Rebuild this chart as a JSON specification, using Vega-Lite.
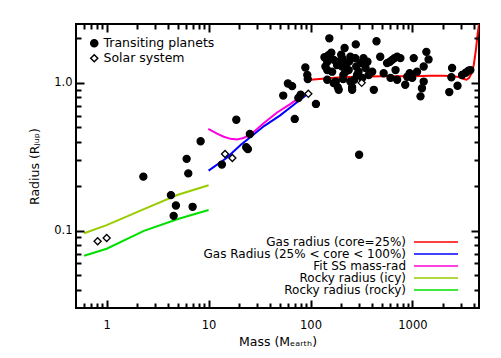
{
  "$schema": "https://vega.github.io/schema/vega-lite/v6.json",
  "width": 403,
  "height": 284,
  "autosize": {"type": "none"},
  "padding": {"left": 76, "top": 24, "right": 22, "bottom": 50},
  "background": "white",
  "config": {
    "font": "DejaVu Sans",
    "view": {"stroke": "black", "strokeWidth": 2},
    "axis": {
      "domain": false, "grid": false, "ticks": true, "tickWidth": 2, "tickOpacity": 1, "zindex": 1,
      "labelColor": "black", "labelFontSize": 11.5,
      "titleFontWeight": "normal", "titleFontSize": 12.5, "titleColor": "black",
      "labelFlush": false, "labelOverlap": false, "labelBound": false
    },
    "legend": {"labelColor": "black"}
  },
  "datasets": {
    "gas": [
      {"model": "Gas radius (core=25%)", "mass": 100, "radius": 1.05},
      {"model": "Gas radius (core=25%)", "mass": 150, "radius": 1.075},
      {"model": "Gas radius (core=25%)", "mass": 200, "radius": 1.09},
      {"model": "Gas radius (core=25%)", "mass": 300, "radius": 1.1},
      {"model": "Gas radius (core=25%)", "mass": 500, "radius": 1.11},
      {"model": "Gas radius (core=25%)", "mass": 1000, "radius": 1.11},
      {"model": "Gas radius (core=25%)", "mass": 1500, "radius": 1.115},
      {"model": "Gas radius (core=25%)", "mass": 2000, "radius": 1.115},
      {"model": "Gas radius (core=25%)", "mass": 2500, "radius": 1.11},
      {"model": "Gas radius (core=25%)", "mass": 2900, "radius": 1.09},
      {"model": "Gas radius (core=25%)", "mass": 3200, "radius": 1.06},
      {"model": "Gas radius (core=25%)", "mass": 3400, "radius": 1.05},
      {"model": "Gas radius (core=25%)", "mass": 3600, "radius": 1.08},
      {"model": "Gas radius (core=25%)", "mass": 3800, "radius": 1.16},
      {"model": "Gas radius (core=25%)", "mass": 4000, "radius": 1.32},
      {"model": "Gas radius (core=25%)", "mass": 4200, "radius": 1.68},
      {"model": "Gas radius (core=25%)", "mass": 4350, "radius": 2.1},
      {"model": "Gas radius (core=25%)", "mass": 4500, "radius": 2.5},
      {"model": "Gas Radius (25% < core < 100%)", "mass": 10, "radius": 0.255},
      {"model": "Gas Radius (25% < core < 100%)", "mass": 15, "radius": 0.31},
      {"model": "Gas Radius (25% < core < 100%)", "mass": 20.6, "radius": 0.38},
      {"model": "Gas Radius (25% < core < 100%)", "mass": 25.8, "radius": 0.43},
      {"model": "Gas Radius (25% < core < 100%)", "mass": 35, "radius": 0.51},
      {"model": "Gas Radius (25% < core < 100%)", "mass": 50, "radius": 0.6},
      {"model": "Gas Radius (25% < core < 100%)", "mass": 70, "radius": 0.72},
      {"model": "Gas Radius (25% < core < 100%)", "mass": 98, "radius": 0.86},
      {"model": "Fit SS mass-rad", "mass": 9.93, "radius": 0.488},
      {"model": "Fit SS mass-rad", "mass": 12.1, "radius": 0.454},
      {"model": "Fit SS mass-rad", "mass": 14.1, "radius": 0.432},
      {"model": "Fit SS mass-rad", "mass": 16.4, "radius": 0.418},
      {"model": "Fit SS mass-rad", "mass": 19.1, "radius": 0.414},
      {"model": "Fit SS mass-rad", "mass": 22, "radius": 0.424},
      {"model": "Fit SS mass-rad", "mass": 25.8, "radius": 0.446},
      {"model": "Fit SS mass-rad", "mass": 34.9, "radius": 0.535},
      {"model": "Fit SS mass-rad", "mass": 47, "radius": 0.63},
      {"model": "Fit SS mass-rad", "mass": 63.7, "radius": 0.72},
      {"model": "Fit SS mass-rad", "mass": 83, "radius": 0.82},
      {"model": "Fit SS mass-rad", "mass": 97, "radius": 0.87}
    ],
    "rocky": [
      {"model": "Rocky radius (icy)", "mass": 0.6, "radius": 0.096},
      {"model": "Rocky radius (icy)", "mass": 1, "radius": 0.109},
      {"model": "Rocky radius (icy)", "mass": 2.32, "radius": 0.14},
      {"model": "Rocky radius (icy)", "mass": 5, "radius": 0.175},
      {"model": "Rocky radius (icy)", "mass": 10, "radius": 0.203},
      {"model": "Rocky radius (rocky)", "mass": 0.6, "radius": 0.0677},
      {"model": "Rocky radius (rocky)", "mass": 1, "radius": 0.0755},
      {"model": "Rocky radius (rocky)", "mass": 2.32, "radius": 0.0997},
      {"model": "Rocky radius (rocky)", "mass": 5, "radius": 0.12},
      {"model": "Rocky radius (rocky)", "mass": 10, "radius": 0.138}
    ],
    "transiting": [
      {"kind": "Transiting planets", "mass": 2.29, "radius": 0.232},
      {"kind": "Transiting planets", "mass": 8.35, "radius": 0.403},
      {"kind": "Transiting planets", "mass": 6.09, "radius": 0.306},
      {"kind": "Transiting planets", "mass": 6.32, "radius": 0.244},
      {"kind": "Transiting planets", "mass": 4.27, "radius": 0.174},
      {"kind": "Transiting planets", "mass": 4.78, "radius": 0.148},
      {"kind": "Transiting planets", "mass": 6.97, "radius": 0.145},
      {"kind": "Transiting planets", "mass": 4.54, "radius": 0.126},
      {"kind": "Transiting planets", "mass": 18.7, "radius": 0.563},
      {"kind": "Transiting planets", "mass": 13.5, "radius": 0.28},
      {"kind": "Transiting planets", "mass": 25.4, "radius": 0.451},
      {"kind": "Transiting planets", "mass": 23.4, "radius": 0.367},
      {"kind": "Transiting planets", "mass": 24.3, "radius": 0.356},
      {"kind": "Transiting planets", "mass": 54, "radius": 0.82},
      {"kind": "Transiting planets", "mass": 60, "radius": 0.99},
      {"kind": "Transiting planets", "mass": 66, "radius": 0.95},
      {"kind": "Transiting planets", "mass": 89, "radius": 1.27},
      {"kind": "Transiting planets", "mass": 93, "radius": 1.13},
      {"kind": "Transiting planets", "mass": 94, "radius": 1.06},
      {"kind": "Transiting planets", "mass": 80, "radius": 0.83},
      {"kind": "Transiting planets", "mass": 76, "radius": 0.79},
      {"kind": "Transiting planets", "mass": 113, "radius": 0.72},
      {"kind": "Transiting planets", "mass": 70, "radius": 0.57},
      {"kind": "Transiting planets", "mass": 300, "radius": 0.326},
      {"kind": "Transiting planets", "mass": 153, "radius": 2.0},
      {"kind": "Transiting planets", "mass": 216, "radius": 1.72},
      {"kind": "Transiting planets", "mass": 278, "radius": 1.82},
      {"kind": "Transiting planets", "mass": 444, "radius": 1.91},
      {"kind": "Transiting planets", "mass": 137, "radius": 1.49},
      {"kind": "Transiting planets", "mass": 150, "radius": 1.54},
      {"kind": "Transiting planets", "mass": 146, "radius": 1.39},
      {"kind": "Transiting planets", "mass": 146, "radius": 1.22},
      {"kind": "Transiting planets", "mass": 146, "radius": 1.05},
      {"kind": "Transiting planets", "mass": 169, "radius": 1.43},
      {"kind": "Transiting planets", "mass": 189, "radius": 1.39},
      {"kind": "Transiting planets", "mass": 177, "radius": 1.02},
      {"kind": "Transiting planets", "mass": 189, "radius": 0.897},
      {"kind": "Transiting planets", "mass": 209, "radius": 1.06},
      {"kind": "Transiting planets", "mass": 228, "radius": 1.36},
      {"kind": "Transiting planets", "mass": 237, "radius": 1.22},
      {"kind": "Transiting planets", "mass": 246, "radius": 1.5},
      {"kind": "Transiting planets", "mass": 256, "radius": 0.897},
      {"kind": "Transiting planets", "mass": 269, "radius": 1.05},
      {"kind": "Transiting planets", "mass": 275, "radius": 1.47},
      {"kind": "Transiting planets", "mass": 281, "radius": 1.29},
      {"kind": "Transiting planets", "mass": 296, "radius": 1.19},
      {"kind": "Transiting planets", "mass": 310, "radius": 1.36},
      {"kind": "Transiting planets", "mass": 331, "radius": 1.47},
      {"kind": "Transiting planets", "mass": 347, "radius": 1.26},
      {"kind": "Transiting planets", "mass": 362, "radius": 1.39},
      {"kind": "Transiting planets", "mass": 372, "radius": 1.13},
      {"kind": "Transiting planets", "mass": 403, "radius": 1.19},
      {"kind": "Transiting planets", "mass": 418, "radius": 0.897},
      {"kind": "Transiting planets", "mass": 483, "radius": 1.5},
      {"kind": "Transiting planets", "mass": 522, "radius": 1.16},
      {"kind": "Transiting planets", "mass": 564, "radius": 1.36},
      {"kind": "Transiting planets", "mass": 600, "radius": 1.39},
      {"kind": "Transiting planets", "mass": 633, "radius": 1.43},
      {"kind": "Transiting planets", "mass": 667, "radius": 1.47},
      {"kind": "Transiting planets", "mass": 708, "radius": 1.5},
      {"kind": "Transiting planets", "mass": 762, "radius": 1.47},
      {"kind": "Transiting planets", "mass": 683, "radius": 1.22},
      {"kind": "Transiting planets", "mass": 708, "radius": 1.05},
      {"kind": "Transiting planets", "mass": 610, "radius": 1.08},
      {"kind": "Transiting planets", "mass": 850, "radius": 0.97},
      {"kind": "Transiting planets", "mass": 890, "radius": 1.1},
      {"kind": "Transiting planets", "mass": 940, "radius": 1.16},
      {"kind": "Transiting planets", "mass": 995, "radius": 1.08},
      {"kind": "Transiting planets", "mass": 1030, "radius": 1.47},
      {"kind": "Transiting planets", "mass": 1110, "radius": 1.19},
      {"kind": "Transiting planets", "mass": 1290, "radius": 1.29},
      {"kind": "Transiting planets", "mass": 1370, "radius": 1.62},
      {"kind": "Transiting planets", "mass": 1440, "radius": 1.44},
      {"kind": "Transiting planets", "mass": 1290, "radius": 1.02},
      {"kind": "Transiting planets", "mass": 1240, "radius": 0.92},
      {"kind": "Transiting planets", "mass": 1200, "radius": 0.81},
      {"kind": "Transiting planets", "mass": 2450, "radius": 1.26},
      {"kind": "Transiting planets", "mass": 2410, "radius": 1.09},
      {"kind": "Transiting planets", "mass": 2300, "radius": 0.866},
      {"kind": "Transiting planets", "mass": 2770, "radius": 0.955},
      {"kind": "Transiting planets", "mass": 3070, "radius": 1.13},
      {"kind": "Transiting planets", "mass": 3330, "radius": 1.17},
      {"kind": "Transiting planets", "mass": 3550, "radius": 1.21},
      {"kind": "Transiting planets", "mass": 3700, "radius": 1.22},
      {"kind": "Transiting planets", "mass": 140, "radius": 1.29},
      {"kind": "Transiting planets", "mass": 163, "radius": 1.19},
      {"kind": "Transiting planets", "mass": 182, "radius": 1.32},
      {"kind": "Transiting planets", "mass": 204, "radius": 1.29},
      {"kind": "Transiting planets", "mass": 220, "radius": 1.19},
      {"kind": "Transiting planets", "mass": 169, "radius": 0.995},
      {"kind": "Transiting planets", "mass": 185, "radius": 0.935},
      {"kind": "Transiting planets", "mass": 256, "radius": 0.935},
      {"kind": "Transiting planets", "mass": 322, "radius": 1.08},
      {"kind": "Transiting planets", "mass": 246, "radius": 1.02},
      {"kind": "Transiting planets", "mass": 286, "radius": 1.13},
      {"kind": "Transiting planets", "mass": 210, "radius": 1.13},
      {"kind": "Transiting planets", "mass": 204, "radius": 1.47},
      {"kind": "Transiting planets", "mass": 160, "radius": 1.6},
      {"kind": "Transiting planets", "mass": 200, "radius": 1.55},
      {"kind": "Transiting planets", "mass": 240, "radius": 1.4}
    ],
    "solar": [
      {"kind": "Solar system", "mass": 0.815, "radius": 0.0849},
      {"kind": "Solar system", "mass": 1, "radius": 0.0892},
      {"kind": "Solar system", "mass": 14.5, "radius": 0.33},
      {"kind": "Solar system", "mass": 17.1, "radius": 0.31},
      {"kind": "Solar system", "mass": 95.2, "radius": 0.843},
      {"kind": "Solar system", "mass": 317.8, "radius": 1.0}
    ]
  },
  "layer": [
    {
      "data": {"name": "gas"},
      "mark": {"type": "line", "strokeWidth": 2, "clip": true},
      "encoding": {
        "x": {
          "field": "mass", "type": "quantitative",
          "scale": {"type": "log", "domain": [0.5, 4500], "nice": false},
          "axis": {
            "orient": "bottom", "title": "Mass (Mₑₐᵣₜₕ)",
            "values": [1, 10, 100, 1000], "format": "d", "zindex": 1,
            "tickSize": -8, "tickColor": "black", "labelPadding": 19, "titlePadding": 5
          }
        },
        "y": {
          "field": "radius", "type": "quantitative",
          "scale": {"type": "log", "domain": [0.03, 2.5], "nice": false},
          "axis": {
            "orient": "left", "title": "Radius (Rⱼᵤₚ)",
            "values": [0.1, 1], "format": ".1f", "zindex": 1,
            "tickSize": -8, "tickColor": "black", "labelPadding": 12, "titlePadding": 12
          }
        },
        "color": {
          "field": "model", "type": "nominal",
          "scale": {
            "domain": ["Gas radius (core=25%)", "Gas Radius (25% < core < 100%)", "Fit SS mass-rad", "Rocky radius (icy)", "Rocky radius (rocky)"],
            "range": ["#ff0000", "#0000ff", "#ff00dd", "#99cc00", "#00e000"]
          },
          "legend": {
            "orient": "none", "legendX": 354, "legendY": 212, "title": null,
            "symbolType": "M-6,0H6", "symbolSize": 54, "symbolStrokeWidth": 1.5,
            "labelAlign": "right", "labelOffset": -36, "labelFontSize": 12, "labelLimit": 400,
            "rowPadding": 0, "padding": 0
          }
        }
      }
    },
    {
      "data": {"name": "rocky"},
      "mark": {"type": "line", "strokeWidth": 2, "clip": true},
      "encoding": {
        "x": {
          "field": "mass", "type": "quantitative",
          "axis": {
            "orient": "bottom", "title": null, "labels": false, "zindex": 1,
            "values": [0.6,0.7,0.8,0.9,2,3,4,5,6,7,8,9,20,30,40,50,60,70,80,90,200,300,400,500,600,700,800,900,2000,3000,4000],
            "tickSize": -5, "tickColor": "black"
          }
        },
        "y": {
          "field": "radius", "type": "quantitative",
          "axis": {
            "orient": "left", "title": null, "labels": false, "zindex": 1,
            "values": [0.04,0.05,0.06,0.07,0.08,0.09,0.2,0.3,0.4,0.5,0.6,0.7,0.8,0.9,2],
            "tickSize": -5, "tickColor": "black"
          }
        },
        "color": {"field": "model", "type": "nominal"}
      }
    },
    {
      "data": {"name": "transiting"},
      "mark": {"type": "point", "stroke": "black", "strokeWidth": 1.3, "opacity": 1, "size": 50},
      "encoding": {
        "x": {
          "field": "mass", "type": "quantitative",
          "axis": {
            "orient": "top", "title": null, "labels": false, "zindex": 1,
            "values": [1, 10, 100, 1000], "tickSize": -8, "tickColor": "black"
          }
        },
        "y": {
          "field": "radius", "type": "quantitative",
          "axis": {
            "orient": "right", "title": null, "labels": false, "zindex": 1,
            "values": [0.1, 1], "tickSize": -8, "tickColor": "black"
          }
        },
        "shape": {
          "field": "kind", "type": "nominal",
          "scale": {"domain": ["Transiting planets", "Solar system"], "range": ["circle", "diamond"]},
          "legend": {
            "orient": "none", "legendX": 12, "legendY": 13, "title": null, "symbolSize": 50,
            "labelFontSize": 12.5, "labelOffset": 3, "rowPadding": 1, "padding": 0
          }
        },
        "fill": {
          "field": "kind", "type": "nominal",
          "scale": {"domain": ["Transiting planets", "Solar system"], "range": ["black", "white"]},
          "legend": {
            "orient": "none", "legendX": 12, "legendY": 13, "title": null, "symbolSize": 50,
            "labelFontSize": 12.5, "labelOffset": 3, "rowPadding": 1, "padding": 0
          }
        }
      }
    },
    {
      "data": {"name": "solar"},
      "mark": {"type": "point", "stroke": "black", "strokeWidth": 1.3, "opacity": 1, "size": 50},
      "encoding": {
        "x": {
          "field": "mass", "type": "quantitative",
          "axis": {
            "orient": "top", "title": null, "labels": false, "zindex": 1,
            "values": [0.6,0.7,0.8,0.9,2,3,4,5,6,7,8,9,20,30,40,50,60,70,80,90,200,300,400,500,600,700,800,900,2000,3000,4000],
            "tickSize": -5, "tickColor": "black"
          }
        },
        "y": {
          "field": "radius", "type": "quantitative",
          "axis": {
            "orient": "right", "title": null, "labels": false, "zindex": 1,
            "values": [0.04,0.05,0.06,0.07,0.08,0.09,0.2,0.3,0.4,0.5,0.6,0.7,0.8,0.9,2],
            "tickSize": -5, "tickColor": "black"
          }
        },
        "shape": {"field": "kind", "type": "nominal"},
        "fill": {"field": "kind", "type": "nominal"}
      }
    }
  ],
  "resolve": {"axis": {"x": "independent", "y": "independent"}}
}
